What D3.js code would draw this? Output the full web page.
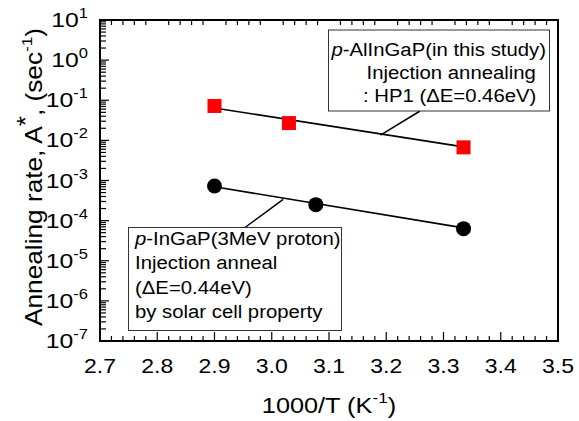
<!DOCTYPE html>
<html>
<head>
<meta charset="utf-8">
<script src="https://cdn.jsdelivr.net/npm/d3@7"></script>
<style>
  body { margin: 0; background: #fff; }
  text { font-family: "Liberation Sans", Arial, sans-serif; fill: #000; }
</style>
</head>
<body>
<div id="chart"></div>
<script>
// data
const xTicks = [2.7, 2.8, 2.9, 3.0, 3.1, 3.2, 3.3, 3.4, 3.5];
const yExps = [-7, -6, -5, -4, -3, -2, -1, 0, 1];

const alX = [2.90, 3.03, 3.335];
const alY = [0.072, 0.027, 0.0067];
const alFitX = [2.90, 3.335];
const alFitY = [0.064, 0.0069];

const inX = [2.90, 3.077, 3.335];
const inY = [7.3e-4, 2.5e-4, 6.3e-5];
const inFitX = [2.90, 3.335];
const inFitY = [7.0e-4, 6.6e-5];

const alLabel = [["p", "-AlInGaP(in this study)"], ["", "Injection annealing"], ["", ": HP1 (\u0394E=0.46eV)"]];
const inLabel = [["p", "-InGaP(3MeV proton)"], ["", "Injection anneal"], ["", "(\u0394E=0.44eV)"], ["", "by solar cell property"]];

const cfg = {
  width: 579,
  height: 421,
  left: 100, right: 558, top: 20, bottom: 341
};

const svg = d3.select("#chart").append("svg")
  .attr("width", cfg.width)
  .attr("height", cfg.height);

const x = d3.scaleLinear().domain([2.7, 3.5]).range([cfg.left, cfg.right]);
const y = d3.scaleLog().domain([1e-7, 10]).range([cfg.bottom, cfg.top]);

// text in the original is a bit wider than it is tall
function wideText(px, py, sx, size, rot) {
  return svg.append("g")
    .attr("transform", `translate(${px},${py})` + (rot ? ` rotate(${rot})` : "") + ` scale(${sx},1)`)
    .append("text")
    .attr("font-size", size);
}

// minor / major ticks
const minorX = d3.range(2.7, 3.5001, 0.02).filter(v => Math.abs(v * 10 - Math.round(v * 10)) > 1e-6);
const minorY = [];
yExps.slice(0, -1).forEach(e => { for (let k = 2; k <= 9; k++) minorY.push(k * Math.pow(10, e)); });

const ticks = svg.append("g").attr("stroke", "#000").attr("stroke-width", 1.2);
ticks.selectAll(".xmin").data(minorX).enter().append("line")
  .attr("x1", d => x(d)).attr("x2", d => x(d))
  .attr("y1", cfg.bottom).attr("y2", cfg.bottom - 5);
ticks.selectAll(".xmaj").data(xTicks).enter().append("line")
  .attr("x1", d => x(d)).attr("x2", d => x(d))
  .attr("y1", cfg.bottom).attr("y2", cfg.bottom - 9);
// top axis: minor ticks only
ticks.selectAll(".xtop").data(minorX).enter().append("line")
  .attr("x1", d => x(d)).attr("x2", d => x(d))
  .attr("y1", cfg.top).attr("y2", cfg.top + 5);
ticks.selectAll(".ymin").data(minorY).enter().append("line")
  .attr("x1", cfg.left).attr("x2", cfg.left + 6)
  .attr("y1", d => y(d)).attr("y2", d => y(d));
ticks.selectAll(".ymaj").data(yExps).enter().append("line")
  .attr("x1", cfg.left).attr("x2", cfg.left + 9)
  .attr("y1", d => y(Math.pow(10, d))).attr("y2", d => y(Math.pow(10, d)));

// frame
svg.append("rect")
  .attr("x", cfg.left).attr("y", cfg.top)
  .attr("width", cfg.right - cfg.left).attr("height", cfg.bottom - cfg.top)
  .attr("fill", "none").attr("stroke", "#000").attr("stroke-width", 2);

// tick labels
xTicks.forEach(v => {
  wideText(x(v), cfg.bottom + 32, 1.15, 20, 0)
    .attr("text-anchor", "middle")
    .text(v.toFixed(1));
});

yExps.forEach(e => {
  const t = wideText(cfg.left - 12, y(Math.pow(10, e)) + 7, 1.18, 21, 0)
    .attr("text-anchor", "end");
  t.append("tspan").text("10");
  t.append("tspan").attr("dy", -9).attr("font-size", 14).text(e);
});

// axis titles
const xt = wideText((cfg.left + cfg.right) / 2, 413, 1.15, 22, 0)
  .attr("text-anchor", "middle");
xt.append("tspan").text("1000/T (K");
xt.append("tspan").attr("dy", -10).attr("font-size", 15).text("-1");
xt.append("tspan").attr("dy", 10).text(")");

const yt = wideText(42, 177, 1.14, 23, -90)
  .attr("text-anchor", "middle");
yt.append("tspan").text("Annealing rate, A");
yt.append("tspan").attr("dy", -8).text("*");
yt.append("tspan").attr("dy", 8).text(", (sec");
yt.append("tspan").attr("dy", -10).attr("font-size", 15).text("-1");
yt.append("tspan").attr("dy", 10).text(")");

// fit lines
const line = d3.line().x(d => x(d[0])).y(d => y(d[1]));
svg.append("path").datum(d3.zip(alFitX, alFitY))
  .attr("d", line).attr("fill", "none").attr("stroke", "#000").attr("stroke-width", 1.6);
svg.append("path").datum(d3.zip(inFitX, inFitY))
  .attr("d", line).attr("fill", "none").attr("stroke", "#000").attr("stroke-width", 1.6);

// markers
svg.selectAll(".sq").data(d3.zip(alX, alY)).enter().append("rect")
  .attr("x", d => x(d[0]) - 7).attr("y", d => y(d[1]) - 7)
  .attr("width", 14).attr("height", 14).attr("fill", "#ff0000");
svg.selectAll(".ci").data(d3.zip(inX, inY)).enter().append("circle")
  .attr("cx", d => x(d[0])).attr("cy", d => y(d[1]))
  .attr("r", 7.5).attr("fill", "#000");

// annotation boxes
function annotate(lines, box, anchor, lineX, firstBase, step) {
  svg.append("line")
    .attr("x1", x(anchor[0])).attr("y1", y(anchor[1]))
    .attr("x2", box.lx).attr("y2", box.ly)
    .attr("stroke", "#000").attr("stroke-width", 1.5);
  svg.append("rect")
    .attr("x", box.x).attr("y", box.y).attr("width", box.w).attr("height", box.h)
    .attr("fill", "#fff").attr("stroke", "#333").attr("stroke-width", 1);
  lines.forEach((l, i) => {
    const t = wideText(lineX[i], firstBase + i * step, 1.07, 19, 0);
    if (l[0]) t.append("tspan").attr("font-style", "italic").text(l[0]);
    t.append("tspan").text(l[1]);
  });
}

annotate(alLabel,
  { x: 328.5, y: 30, w: 221, h: 81, lx: 420, ly: 111 },
  [3.19, 0.0135], [331.5, 366.5, 363], 55.5, 23);
annotate(inLabel,
  { x: 128.5, y: 227.5, w: 213, h: 103, lx: 245, ly: 227.5 },
  [3.02, 3.4e-4], [135, 135, 135, 135], 245, 24.3);
</script>
</body>
</html>
